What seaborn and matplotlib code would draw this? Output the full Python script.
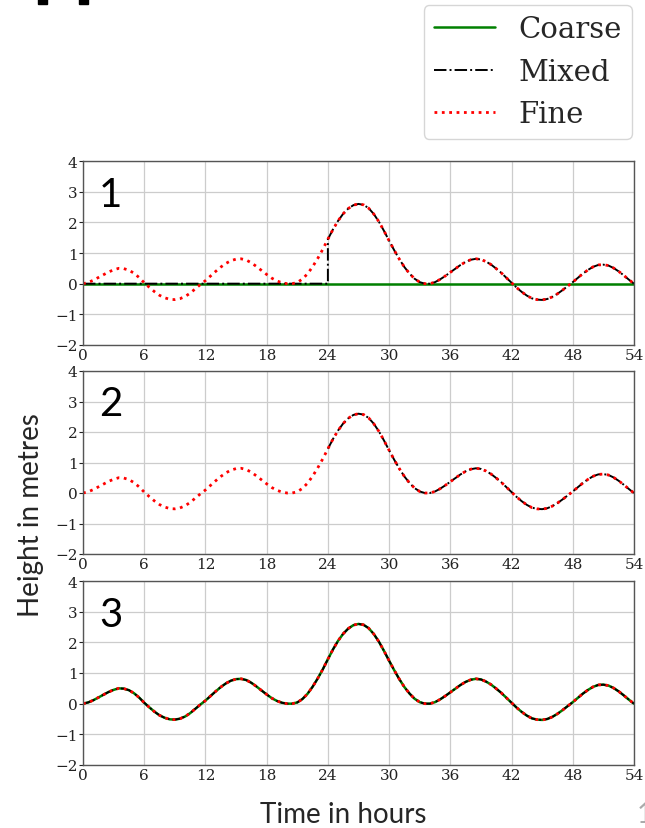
import matplotlib
matplotlib.use("Agg")
import matplotlib.pyplot as plt
from matplotlib.patches import Rectangle
import seaborn as sns
import pandas as pd

# ---- data (every half hour) ----
hours = [i / 2 for i in range(109)]
fine = [0.00, 0.04, 0.11, 0.20, 0.29, 0.38, 0.45, 0.50, 0.49, 0.44,
        0.34, 0.20, 0.03, -0.12, -0.26, -0.38, -0.46, -0.51, -0.52, -0.49,
        -0.42, -0.31, -0.17, -0.03, 0.10, 0.25, 0.40, 0.54, 0.66, 0.75,
        0.80, 0.81, 0.77, 0.68, 0.56, 0.43, 0.30, 0.18, 0.09, 0.03,
        0.00, 0.00, 0.04, 0.15, 0.32, 0.55, 0.82, 1.12, 1.45, 1.77,
        2.05, 2.28, 2.45, 2.56, 2.60, 2.57, 2.46, 2.27, 2.02, 1.72,
        1.40, 1.09, 0.80, 0.54, 0.33, 0.16, 0.05, 0.00, 0.00, 0.05,
        0.14, 0.25, 0.37, 0.49, 0.61, 0.71, 0.78, 0.81, 0.79, 0.72,
        0.62, 0.49, 0.35, 0.19, 0.03, -0.13, -0.27, -0.39, -0.48, -0.52,
        -0.53, -0.50, -0.43, -0.33, -0.21, -0.08, 0.05, 0.19, 0.33, 0.45,
        0.55, 0.61, 0.62, 0.59, 0.51, 0.40, 0.27, 0.13, 0.00]
switch_hour = 24
coarse_flat = [0.0] * len(hours)
panel_labels = ["1", "2", "3"]
series_names = ["Coarse", "Mixed", "Fine"]
xticks = [0, 6, 12, 18, 24, 30, 36, 42, 48, 54]
yticks = [-2, -1, 0, 1, 2, 3, 4]

i0 = hours.index(switch_hour)
# panel 1
p1_coarse = pd.DataFrame({"t": hours, "h": coarse_flat})
p1_mixed = pd.DataFrame({"t": hours[:i0 + 1] + hours[i0:],
                         "h": coarse_flat[:i0 + 1] + fine[i0:]})
p1_fine = pd.DataFrame({"t": hours, "h": fine})
# panel 2
p2_mixed = pd.DataFrame({"t": hours[i0:], "h": fine[i0:]})
p2_fine = pd.DataFrame({"t": hours, "h": fine})
# panel 3
p3 = pd.DataFrame({"t": hours, "h": fine})

panels = [
    [("Coarse", p1_coarse), ("Mixed", p1_mixed), ("Fine", p1_fine)],
    [("Mixed", p2_mixed), ("Fine", p2_fine)],
    [("Coarse", p3), ("Mixed", p3), ("Fine", p3)],
]

styles = {
    "Coarse": dict(color="#008000", linestyle="-", linewidth=1.8),
    "Mixed": dict(color="black", linestyle="-.", linewidth=1.4),
    "Fine": dict(color="red", linestyle=":", linewidth=2.0),
}

sns.set_style("ticks")
plt.rcParams["font.family"] = ["DejaVu Serif"]

fig = plt.figure(figsize=(6.45, 8.29), dpi=100)
W, H = 645, 829
left, right = 83, 634
tops = [162, 372, 582]
bottoms = [346, 555, 766]

for k in range(3):
    ax = fig.add_axes([left / W, 1 - bottoms[k] / H, (right - left) / W,
                       (bottoms[k] - tops[k]) / H])
    for name, df in panels[k]:
        sns.lineplot(data=df, x="t", y="h", ax=ax, estimator=None, sort=False,
                     label=name, legend=False, **styles[name])
    ax.set_xlim(0, 54)
    ax.set_ylim(-2, 4)
    ax.set_xticks(xticks)
    ax.set_yticks(yticks)
    ax.grid(True, color="#cccccc", linewidth=0.9)
    ax.set_axisbelow(True)
    for s in ax.spines.values():
        s.set_visible(True)
        s.set_color("#555555")
        s.set_linewidth(1.0)
    ax.tick_params(axis="both", labelsize=11, colors="#222222",
                   length=3, width=0.8, pad=1)
    ax.tick_params(axis="x", length=0, pad=2)
    ax.set_xlabel("")
    ax.set_ylabel("")
    ax.text(0.05, 0.82, panel_labels[k], transform=ax.transAxes,
            fontsize=29, family=["Lato", "DejaVu Sans"], ha="center",
            va="center", color="black")

# legend
handles = [plt.Line2D([], [], **styles[n]) for n in series_names]
leg = fig.legend(handles, series_names, loc="upper right",
                 bbox_to_anchor=(632 / W, 1 - 6 / H), fontsize=21,
                 frameon=True, fancybox=True, handlelength=2.1,
                 labelspacing=0.5, borderpad=0.35, handletextpad=0.8,
                 borderaxespad=0)
leg.get_frame().set_edgecolor("#cccccc")
leg.get_frame().set_linewidth(1.0)

fig.text(343 / W, 1 - 815 / H, "Time in hours", fontsize=20,
         family=["Lato", "DejaVu Sans"], ha="center", va="center")
fig.text(31 / W, 1 - 515 / H, "Height in metres", fontsize=20,
         family=["Lato", "DejaVu Sans"], ha="center", va="center",
         rotation=90)
fig.text(637 / W, 1 - 815 / H, "1", fontsize=20, color="#aaaaaa",
         family=["Lato", "DejaVu Sans"], ha="left", va="center")

# cropped marks at the top-left edge
for x0 in (38, 79):
    fig.patches.append(Rectangle((x0 / W, 1 - 5 / H), 9 / W, 5 / H,
                                 transform=fig.transFigure,
                                 color="black", zorder=5))

fig.savefig("out.png", dpi=100)
